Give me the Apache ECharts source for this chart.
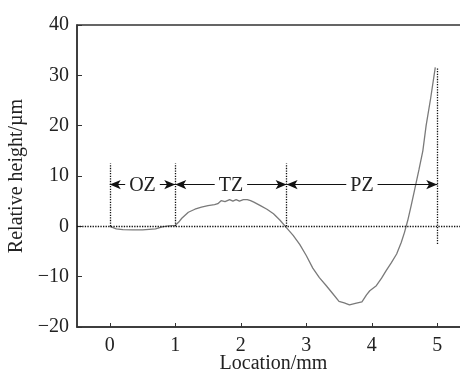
<!DOCTYPE html>
<html>
<head>
<meta charset="utf-8">
<script src="https://cdn.jsdelivr.net/npm/echarts@6/dist/echarts.min.js"></script>
<style>
  html, body { margin: 0; padding: 0; background: #fff; }
  #chart { width: 460px; height: 374px; }
</style>
</head>
<body>
<div id="chart"></div>
<script>
// profile
const locations = [0, 0.1, 0.2, 0.35, 0.5, 0.6, 0.7, 0.8, 0.9, 1.0, 1.05, 1.1, 1.2, 1.3, 1.4, 1.5, 1.6, 1.65, 1.7, 1.76, 1.83, 1.88, 1.93, 1.98, 2.04, 2.1, 2.15, 2.2, 2.3, 2.4, 2.5, 2.6, 2.7, 2.8, 2.9, 3.0, 3.1, 3.2, 3.3, 3.4, 3.5, 3.58, 3.66, 3.75, 3.85, 3.92, 3.97, 4.07, 4.15, 4.22, 4.3, 4.38, 4.45, 4.5, 4.55, 4.6, 4.66, 4.72, 4.78, 4.83, 4.9, 4.97];
const heights = [0, -0.5, -0.65, -0.7, -0.7, -0.6, -0.5, -0.1, 0.1, 0.2, 0.8, 1.6, 2.8, 3.4, 3.8, 4.1, 4.3, 4.5, 5.1, 4.9, 5.3, 5.0, 5.3, 5.0, 5.3, 5.3, 5.1, 4.8, 4.1, 3.4, 2.5, 1.2, -0.3, -1.8, -3.6, -5.8, -8.3, -10.2, -11.7, -13.3, -14.9, -15.2, -15.6, -15.3, -15.0, -13.6, -12.8, -11.8, -10.3, -8.8, -7.2, -5.5, -3.2, -1.2, 1.2, 4.0, 7.6, 11.2, 15.0, 20.0, 25.5, 31.6];

const xTicks = [0, 1, 2, 3, 4, 5];

// zone annotations
const zoneBounds = [0, 1, 2.7, 5];
const boundTop = [12.5, 12.5, 12.5, 31.5];
const boundBottom = [0, 0, 0, -3.5];
const zoneNames = ["OZ", "TZ", "PZ"];
const arrowLevel = 8.3;

const font = "Liberation Serif";
const axisColor = "#333";
const textColor = "#222";

const chart = echarts.init(document.getElementById("chart"));

const boundLines = zoneBounds.map((x, i) => [
  { coord: [x, boundBottom[i]] },
  { coord: [x, boundTop[i]] },
]);

const arrowLines = zoneNames.map((name, i) => [
  { coord: [zoneBounds[i], arrowLevel], name: name },
  { coord: [zoneBounds[i + 1], arrowLevel] },
]);

// proper minus sign like the original figure
const minus = (v) => String(v).replace("-", "\u2212");

chart.setOption({
  animation: false,
  grid: {
    left: 77, top: 25, width: 393, height: 302,
    outerBoundsMode: "none",
    containLabel: false,
    show: true, borderColor: axisColor, borderWidth: 1.5,
  },
  xAxis: {
    type: "value",
    min: -0.5,
    max: 5.5,
    name: "Location/mm",
    nameLocation: "middle",
    nameGap: 27,
    nameMoveOverlap: false,
    nameTextStyle: { fontFamily: font, fontSize: 20, color: textColor },
    axisLine: { onZero: false, lineStyle: { color: axisColor, width: 1.5 } },
    axisTick: { inside: true, length: 4, customValues: xTicks, lineStyle: { color: axisColor } },
    axisLabel: { customValues: xTicks, margin: 9, fontFamily: font, fontSize: 20, color: textColor },
    splitLine: { show: false },
  },
  yAxis: {
    type: "value",
    min: -20,
    max: 40,
    interval: 10,
    name: "Relative height/µm",
    nameLocation: "middle",
    nameGap: 44,
    nameTextStyle: { fontFamily: font, fontSize: 20, color: textColor },
    axisLine: { show: true, onZero: false, lineStyle: { color: axisColor, width: 1.5 } },
    axisTick: { show: true, inside: true, length: 5, lineStyle: { color: axisColor } },
    axisLabel: { margin: 8, fontFamily: font, fontSize: 20, color: textColor, formatter: minus },
    splitLine: { show: false },
  },
  series: [
    {
      type: "line",
      data: locations.map((x, i) => [x, heights[i]]),
      showSymbol: false,
      lineStyle: { color: "#7a7a7a", width: 1.3 },
      z: 3,
      markLine: {
        silent: true,
        symbol: "none",
        animation: false,
        lineStyle: { color: "#111", type: "dotted", width: 1.3 },
        label: { show: false },
        data: [{ yAxis: 0 }].concat(boundLines),
      },
    },
    {
      type: "line",
      data: [],
      markLine: {
        silent: true,
        animation: false,
        symbol: ["arrow", "arrow"],
        symbolSize: [7, 11],
        lineStyle: { color: "#111", type: "solid", width: 1 },
        label: {
          show: true,
          position: "middle",
          formatter: "{b}",
          distance: 0,
          offset: [0, 11],
          fontFamily: font,
          fontSize: 20,
          color: textColor,
          backgroundColor: "#fff",
          padding: [0, 4],
        },
        data: arrowLines,
      },
    },
  ],
});
</script>
</body>
</html>
